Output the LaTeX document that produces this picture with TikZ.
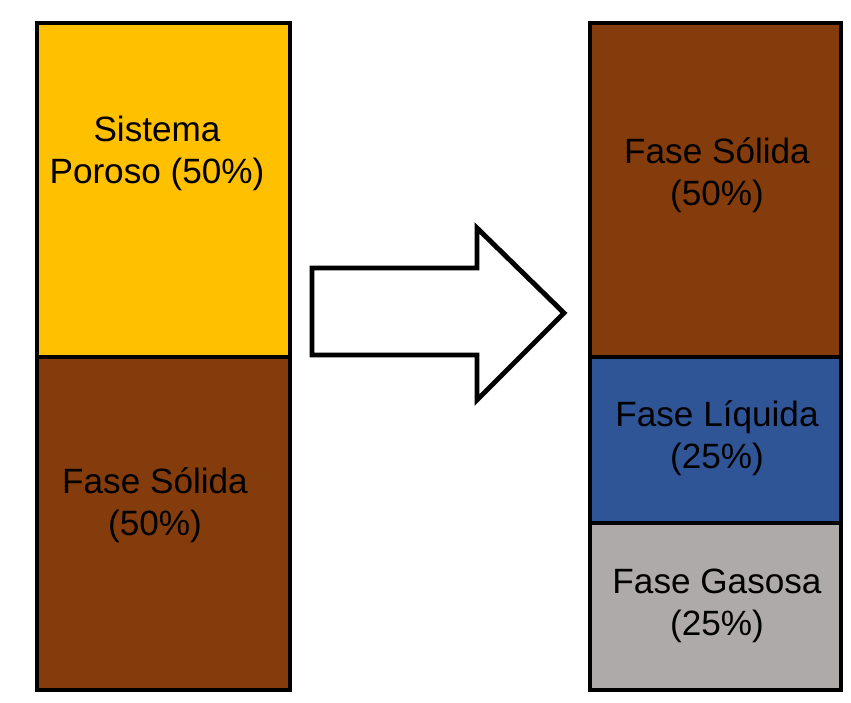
\documentclass[tikz,border=0pt]{standalone}
\usepackage{fontspec}
\setmainfont{Liberation Sans}
\usepackage{tikz}
\usetikzlibrary{positioning}
\definecolor{poro}{HTML}{FFC000}
\definecolor{solido}{HTML}{843C0C}
\definecolor{liquido}{HTML}{2F5597}
\definecolor{gasoso}{HTML}{AEAAAA}
\tikzset{
	fase/.style = {draw=black, line width=4.2pt},
	rotulo/.style = {align=center, font=\fontsize{30}{36}\selectfont},
}

\begin{document}
\begin{tikzpicture}[x=0.03cm, y=-0.03cm]
		\useasboundingbox (0,0) rectangle (851,702);
		% coluna esquerda
		\draw [fase, fill=poro] (37,23) rectangle (290,357);
		\draw [fase, fill=solido] (37,357) rectangle (290,690);
		\node [rotulo] (poroso) at (157,153) {Sistema\\Poroso (50\%)};
		\node [rotulo] (solidoA) at (155,505) {Fase Sólida\\(50\%)};
		% seta
		\draw [line width=4.2pt, fill=white, line join=miter]
			(312,268) -- (477,268) -- (477,228) -- (564,313) -- (477,400) -- (477,355) -- (312,355) -- cycle;
		% coluna direita
		\draw [fase, fill=solido] (590,23) rectangle (841,357);
		\draw [fase, fill=liquido] (590,357) rectangle (841,523);
		\draw [fase, fill=gasoso] (590,523) rectangle (841,690);
		\node [rotulo] (solidoB) at (717,175) {Fase Sólida\\(50\%)};
		\node [rotulo] (liquida) at (717,438) {Fase Líquida\\(25\%)};
		\node [rotulo] (gasosa) at (717,606) {Fase Gasosa\\(25\%)};
\end{tikzpicture}
\end{document}
